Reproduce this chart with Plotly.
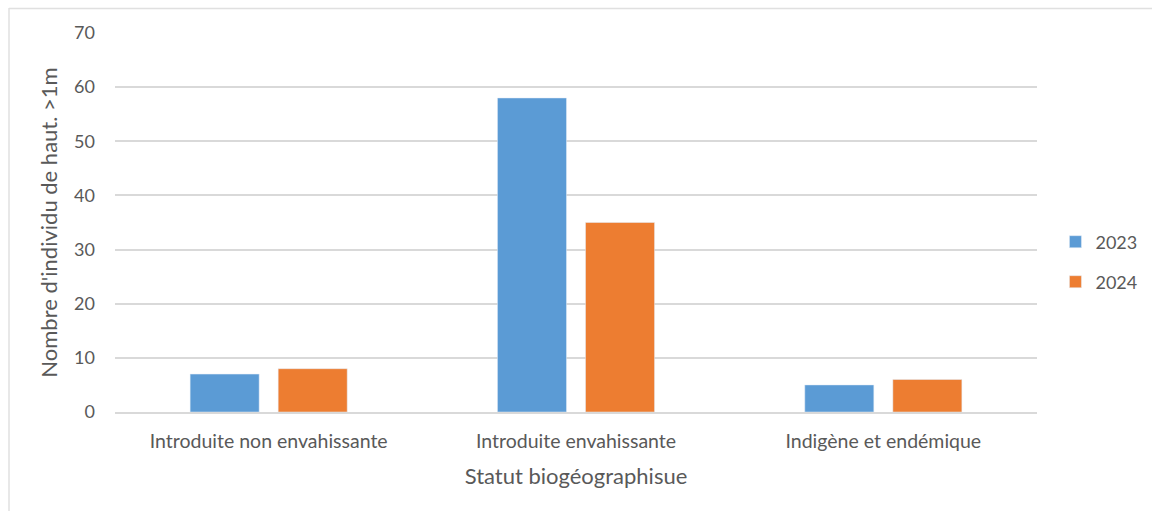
import plotly.graph_objects as go

categories = ["Introduite non envahissante", "Introduite envahissante", "Indigène et endémique"]
values_2023 = [7, 58, 5]
values_2024 = [8, 35, 6]
y_ticks = [0, 10, 20, 30, 40, 50, 60, 70]

blue = "#5b9bd5"
orange = "#ed7d31"
grey_text = "#595959"
grid = "#d9d9d9"
font_family = "Lato, Open Sans, sans-serif"

fig = go.Figure()
fig.add_trace(go.Bar(name="2023", x=categories, y=values_2023, marker_color=blue,
                     legend="legend"))
fig.add_trace(go.Bar(name="2024", x=categories, y=values_2024, marker_color=orange,
                     legend="legend2"))

legend_style = dict(font=dict(family=font_family, size=18, color=grey_text),
                    bgcolor="rgba(0,0,0,0)", xanchor="left", yanchor="middle",
                    itemwidth=30)

fig.update_layout(
    width=1152, height=511,
    margin=dict(l=115, r=115, t=33, b=99, autoexpand=False),
    paper_bgcolor="white", plot_bgcolor="white",
    barmode="group", bargap=0.427, bargroupgap=0.216,
    font=dict(family=font_family, color=grey_text),
    showlegend=True,
    legend=dict(x=1.02, y=(412 - 242) / 379, **legend_style),
    legend2=dict(x=1.02, y=(412 - 282) / 379, **legend_style),
    xaxis=dict(
        title=dict(text="Statut biogéographisue", font=dict(size=22, color=grey_text), standoff=17),
        tickfont=dict(size=19.5, color=grey_text),
        ticklabelstandoff=11,
        showline=True, linecolor=grid, linewidth=1.5,
        ticks="", showgrid=False,
    ),
    yaxis=dict(
        title=dict(text="Nombre d'individu de haut. >1m", font=dict(size=22, color=grey_text), standoff=10),
        tickfont=dict(size=18, color=grey_text),
        ticklabelstandoff=19,
        range=[0, 70], tickvals=y_ticks,
        showgrid=True, gridcolor=grid, gridwidth=1.5,
        zeroline=False, showline=False, ticks="",
    ),
    shapes=[
        dict(type="line", xref="paper", yref="paper",
             x0=(9 - 115) / 922, x1=(9 - 115) / 922, y0=(412 - 8) / 379, y1=(412 - 520) / 379,
             line=dict(color="#e0e0e0", width=1.5)),
        dict(type="line", xref="paper", yref="paper",
             x0=(9 - 115) / 922, x1=(1160 - 115) / 922, y0=(412 - 8.5) / 379, y1=(412 - 8.5) / 379,
             line=dict(color="#e0e0e0", width=1.5)),
    ],
)

fig.write_html("out.html")
